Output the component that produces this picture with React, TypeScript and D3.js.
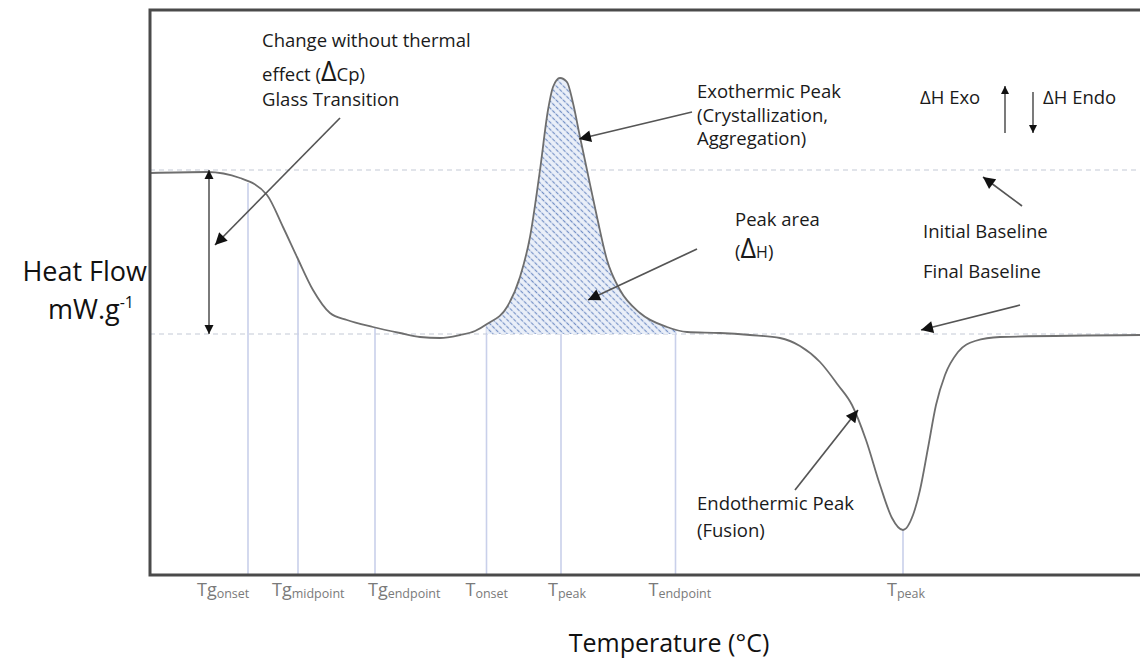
import React from 'react';
import * as d3 from 'd3';

// ---- data (temperature in arbitrary °C units, heat flow in mW/g relative to final baseline) ----
const temperature = [0, 11.4, 18, 23.4, 26.6, 29.4, 32.6, 36, 39.4, 44.6, 50, 54, 58, 62, 65, 67.4, 71.4, 74, 76, 78, 79.6, 80.6, 82, 83.4, 84.6, 86, 87.4, 89.4, 91.4, 94, 98, 103.4, 107.4, 114, 120, 126, 130, 134, 137.6, 140.4, 143.2, 146, 148.4, 150.6, 152.6, 154, 155.6, 157.2, 159, 161.6, 165, 170, 198];
const heatFlow = [1.61, 1.62, 1.56, 1.39, 1.07, 0.77, 0.44, 0.21, 0.14, 0.07, 0.01, -0.03, -0.04, -0.01, 0.03, 0.10, 0.27, 0.57, 0.97, 1.64, 2.24, 2.47, 2.56, 2.52, 2.31, 1.97, 1.64, 1.17, 0.74, 0.44, 0.21, 0.07, 0.02, 0.01, -0.01, -0.04, -0.12, -0.28, -0.51, -0.71, -1.06, -1.51, -1.84, -1.96, -1.81, -1.56, -1.14, -0.71, -0.41, -0.18, -0.07, -0.03, -0.01];

const initialBaseline = 1.64;
const finalBaseline = 0;

const markerTemps = [19.6, 29.6, 45, 67.3, 82.2, 105.1, 150.6];
const markerMain = ['Tg', 'Tg', 'Tg', 'T', 'T', 'T', 'T'];
const markerSub = ['onset', 'midpoint', 'endpoint', 'onset', 'peak', 'endpoint', 'peak'];

const peakStart = 67.3;
const peakEnd = 105.1;

// annotation arrows [tailT, tailHF, tipT, tipHF]
const arrows = [
  [38, 2.16, 13, 0.89],
  [108.4, 2.22, 85.8, 1.95],
  [109.4, 0.85, 87.6, 0.34],
  [174.4, 1.28, 166.6, 1.57],
  [174, 0.29, 154.2, 0.04],
  [129, -1.56, 141.6, -0.76],
];
const deltaCpT = 11.8;
const exoArrow = [171, 2.01, 171, 2.48];
const endoArrow = [176.6, 2.42, 176.6, 2.01];

// ---- layout ----
const W = 1140;
const H = 661;
const x = d3.scaleLinear().domain([0, 198]).range([150, 1140]);
const y = d3.scaleLinear().domain([-2.41, 3.24]).range([575, 10]);
const labelDx = [-51, -26, -7, -21, -13, -27, -16];
const FONT = '"Open Sans", "Noto Sans", sans-serif';

const pts: [number, number][] = temperature.map((t, i) => [t, heatFlow[i]]);
const linePath = d3.line<[number, number]>().x(d => x(d[0])).y(d => y(d[1])).curve(d3.curveMonotoneX)(pts) || '';
const areaPath = d3.area<[number, number]>().x(d => x(d[0])).y0(y(finalBaseline)).y1(d => y(d[1])).curve(d3.curveMonotoneX)(pts) || '';
const hfAt = d3.scaleLinear().domain(temperature).range(heatFlow);

export default function App() {
  const annStyle = { fontFamily: FONT, fontSize: 18.5, fontWeight: 500, fill: '#1a1a1a' } as React.CSSProperties;
  return (
    <svg width={W} height={H} style={{ position: 'absolute', left: 0, top: 0, background: '#fff' }}>
      <defs>
        <pattern id="hatch" width="5" height="5" patternUnits="userSpaceOnUse" patternTransform="rotate(-45)">
          <rect width="5" height="5" fill="#ebf0f9" />
          <line x1="2.5" y1="0" x2="2.5" y2="5" stroke="#7591c6" strokeWidth="1.2" strokeDasharray="2.2 1.3" />
        </pattern>
        <clipPath id="peakClip">
          <rect x={x(peakStart)} y={0} width={x(peakEnd) - x(peakStart)} height={H} />
        </clipPath>
        <marker id="head" viewBox="0 0 10 10" refX="10" refY="5" markerUnits="userSpaceOnUse" markerWidth="15" markerHeight="12" orient="auto">
          <path d="M0,0 L10,5 L0,10 z" fill="#111" />
        </marker>
        <marker id="headSmall" viewBox="0 0 10 10" refX="10" refY="5" markerUnits="userSpaceOnUse" markerWidth="9" markerHeight="8" orient="auto">
          <path d="M0,0 L10,5 L0,10 z" fill="#111" />
        </marker>
        <marker id="headDbl" viewBox="0 0 10 10" refX="10" refY="5" markerUnits="userSpaceOnUse" markerWidth="9" markerHeight="12" orient="auto">
          <path d="M0,0 L10,5 L0,10 z" fill="#111" />
        </marker>
      </defs>

      {/* dashed baselines */}
      {[initialBaseline, finalBaseline].map((b, i) => (
        <line key={i} x1={x(0)} x2={x(198)} y1={y(b)} y2={y(b)} stroke="#c3cad6" strokeWidth={1.2} strokeDasharray="5 4" />
      ))}

      {/* marker verticals */}
      {markerTemps.map((t, i) => (
        <line key={i} x1={x(t)} x2={x(t)} y1={y(hfAt(t))} y2={575} stroke="#c9d0ea" strokeWidth={1.6} />
      ))}

      {/* hatched peak area */}
      <path d={areaPath} fill="url(#hatch)" clipPath="url(#peakClip)" />

      {/* DSC curve */}
      <path d={linePath} fill="none" stroke="#6e6e6e" strokeWidth={1.8} />

      {/* delta Cp double arrow */}
      <line x1={x(deltaCpT)} x2={x(deltaCpT)} y1={(y(initialBaseline) + y(finalBaseline)) / 2} y2={y(initialBaseline)} stroke="#7a7a7a" strokeWidth={2} markerEnd="url(#headDbl)" />
      <line x1={x(deltaCpT)} x2={x(deltaCpT)} y1={(y(initialBaseline) + y(finalBaseline)) / 2} y2={y(finalBaseline)} stroke="#7a7a7a" strokeWidth={2} markerEnd="url(#headDbl)" />

      {/* annotation arrows */}
      {arrows.map((a, i) => (
        <line key={i} x1={x(a[0])} y1={y(a[1])} x2={x(a[2])} y2={y(a[3])} stroke="#555" strokeWidth={1.7} markerEnd="url(#head)" />
      ))}
      <line x1={x(exoArrow[0])} y1={y(exoArrow[1])} x2={x(exoArrow[2])} y2={y(exoArrow[3])} stroke="#222" strokeWidth={1.2} markerEnd="url(#headSmall)" />
      <line x1={x(endoArrow[0])} y1={y(endoArrow[1])} x2={x(endoArrow[2])} y2={y(endoArrow[3])} stroke="#222" strokeWidth={1.2} markerEnd="url(#headSmall)" />

      {/* annotation texts */}
      <text x={262} y={47} style={annStyle}>Change without thermal</text>
      <text x={262} y={81} style={annStyle}>effect (<tspan fontSize={27}>Δ</tspan>Cp)</text>
      <text x={262} y={106} style={annStyle}>Glass Transition</text>

      <text x={697} y={98} style={annStyle}>Exothermic Peak</text>
      <text x={697} y={122} style={annStyle}>(Crystallization,</text>
      <text x={697} y={145} style={annStyle}>Aggregation)</text>

      <text x={735} y={226} style={annStyle}>Peak area</text>
      <text x={735} y={258} style={annStyle}>(<tspan fontSize={27}>Δ</tspan><tspan fontSize={16}>H</tspan>)</text>

      <text x={920} y={104} style={annStyle}>ΔH Exo</text>
      <text x={1043} y={104} style={annStyle}>ΔH Endo</text>

      <text x={923} y={238} style={annStyle}>Initial Baseline</text>
      <text x={923} y={278} style={annStyle}>Final Baseline</text>

      <text x={697} y={510} style={annStyle}>Endothermic Peak</text>
      <text x={697} y={537} style={annStyle}>(Fusion)</text>

      {/* tick labels */}
      {markerTemps.map((t, i) => (
        <text key={i} x={x(t) + labelDx[i]} y={596} style={{ fontFamily: FONT, fill: '#7a7a7a' }}>
          <tspan fontSize={18}>{markerMain[i]}</tspan>
          <tspan fontSize={12.5} dy={2}>{markerSub[i]}</tspan>
        </text>
      ))}

      {/* axis titles */}
      <text x={147} y={281} textAnchor="end" style={{ fontFamily: FONT, fontSize: 27, fontWeight: 500, fill: '#111' }}>Heat Flow</text>
      <text x={134} y={319} textAnchor="end" style={{ fontFamily: FONT, fontSize: 27, fontWeight: 500, fill: '#111' }}>mW.g<tspan fontSize={16} dy={-11}>-1</tspan></text>
      <text x={669} y={652} textAnchor="middle" style={{ fontFamily: FONT, fontSize: 25, fontWeight: 500, fill: '#111' }}>Temperature (°C)</text>

      {/* frame (open on the right) */}
      <path d={`M${W},10 H150 V575 H${W}`} fill="none" stroke="#4a4a4a" strokeWidth={3} />
    </svg>
  );
}
